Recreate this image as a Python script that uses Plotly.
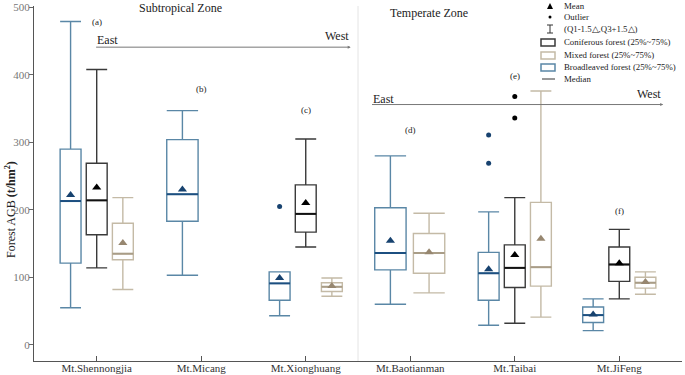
import plotly.graph_objects as go

# ---------------- data ----------------
mountains = ["Mt.Shennongjia", "Mt.Micang", "Mt.Xionghuang",
             "Mt.Baotianman", "Mt.Taibai", "Mt.JiFeng"]

box_mountain = [0, 0, 0, 1, 2, 2, 2, 3, 3, 4, 4, 4, 5, 5, 5]
box_type = ["B", "C", "M", "B", "B", "C", "M", "B", "M", "B", "C", "M", "B", "C", "M"]
lower_w = [55, 114, 82, 103, 43, 145, 72, 60, 77, 29, 32, 41, 21, 68, 75]
q1_vals = [121, 163, 126, 183, 66, 167, 79, 111, 106, 66, 85, 87, 33, 94, 84]
median_vals = [213, 214, 135, 223, 91, 194, 86, 136, 136, 106, 114, 115, 44, 119, 92]
q3_vals = [290, 269, 180, 304, 108, 237, 92, 203, 165, 137, 148, 211, 56, 145, 100]
upper_w = [479, 408, 218, 347, 108, 305, 99, 280, 195, 197, 218, 376, 68, 171, 108]
mean_vals = [222, 233, 151, 230, 99, 210, 87, 154, 137, 112, 133, 157, 45, 121, 93]

outlier_mountain = [2, 4, 4, 4, 4]
outlier_type = ["B", "B", "B", "C", "C"]
outlier_vals = [205, 311, 269, 368, 336]

panel_labels = ["(a)", "(b)", "(c)", "(d)", "(e)", "(f)"]
panel_label_y = [479, 379, 348, 319, 398, 199]

y_ticks = [0, 100, 200, 300, 400, 500]

# ---------------- styles / layout ----------------
FONT = "Liberation Serif"
style = {
    "B": dict(line="#5a87a6", med="#1c4f80", mean="#17426f"),
    "C": dict(line="#3a3a3a", med="#111111", mean="#000000"),
    "M": dict(line="#c4baa6", med="#a99d87", mean="#978770"),
}
three_off = {"B": -0.25, "C": 0.0, "M": 0.25}
two_off = {"B": -0.19, "M": 0.18}
counts = {m: box_mountain.count(m) for m in set(box_mountain)}


def place(m, t):
    if counts[m] >= 3:
        return m + three_off[t], 0.2
    if counts[m] == 2:
        return m + two_off[t], 0.3
    return m - 0.18, 0.3


fig = go.Figure()
for i, m in enumerate(box_mountain):
    t = box_type[i]
    pos, w = place(m, t)
    s = style[t]
    fig.add_trace(go.Box(
        x=[pos], q1=[q1_vals[i]], median=[median_vals[i]], q3=[q3_vals[i]],
        lowerfence=[lower_w[i]], upperfence=[upper_w[i]],
        width=w, whiskerwidth=1, boxpoints=False,
        line=dict(color=s["line"], width=1.4),
        fillcolor="rgba(255,255,255,0)", showlegend=False, hoverinfo="skip"))
    fig.add_trace(go.Scatter(
        x=[pos - w / 2, pos + w / 2], y=[median_vals[i]] * 2, mode="lines",
        line=dict(color=s["med"], width=2), showlegend=False, hoverinfo="skip"))
    fig.add_trace(go.Scatter(
        x=[pos], y=[mean_vals[i]], mode="markers",
        marker=dict(symbol="triangle-up", size=8, color=s["mean"]),
        showlegend=False, hoverinfo="skip"))

for m, t, v in zip(outlier_mountain, outlier_type, outlier_vals):
    pos, w = place(m, t)
    fig.add_trace(go.Scatter(
        x=[pos], y=[v], mode="markers",
        marker=dict(symbol="circle", size=5, color=style[t]["mean"]),
        showlegend=False, hoverinfo="skip"))

ann = []
for i, lab in enumerate(panel_labels):
    ann.append(dict(x=i, y=panel_label_y[i], text=lab, showarrow=False,
                    xanchor="center", yanchor="middle",
                    font=dict(size=9, color="#222", family=FONT)))

ann.append(dict(x=0.8, y=499, text="Subtropical Zone", showarrow=False,
                xanchor="center", yanchor="middle",
                font=dict(size=12, color="#222", family=FONT)))
ann.append(dict(x=3.18, y=492, text="Temperate Zone", showarrow=False,
                xanchor="center", yanchor="middle",
                font=dict(size=12, color="#222", family=FONT)))

for x0, x1, yv, ye, yw in [(-0.02, 2.43, 441, 452, 458), (2.62, 5.42, 356, 364, 371)]:
    ann.append(dict(x=x1, y=yv, ax=x0, ay=yv, xref="x", yref="y", axref="x", ayref="y",
                    text="", showarrow=True, arrowhead=2, arrowsize=0.6,
                    arrowwidth=1, arrowcolor="#777"))
    ann.append(dict(x=x0, y=ye, text="East", showarrow=False, xanchor="left",
                    yanchor="middle", font=dict(size=12, color="#222", family=FONT)))
    ann.append(dict(x=x1, y=yw, text="West", showarrow=False, xanchor="right",
                    yanchor="middle", font=dict(size=12, color="#222", family=FONT)))

# ---------------- custom legend (paper coords) ----------------
L, T, W, H = 34, 6, 648, 355
def px(x):
    return (x - L) / W
def py(y):
    return (T + H - y) / H

shapes = []
shapes.append(dict(type="line", xref="x", yref="paper", x0=2.5, x1=2.5, y0=0, y1=1,
                   line=dict(color="#e4e4e4", width=1)))

leg_rows = [
    ("tri", "Mean", 6),
    ("dot", "Outlier", 17),
    ("bar", "(Q1-1.5△,Q3+1.5△)", 29),
    ("rect", "Coniferous forest (25%~75%)", 42),
    ("rect", "Mixed forest (25%~75%)", 55),
    ("rect", "Broadleaved forest (25%~75%)", 67),
    ("line", "Median", 79),
]
rect_colors = [style["C"]["line"], style["M"]["line"], style["B"]["line"]]
ri = 0
for kind, label, yy in leg_rows:
    if kind == "tri":
        shapes.append(dict(type="path", xref="paper", yref="paper",
                           path=f"M {px(547)},{py(yy+3)} L {px(553)},{py(yy+3)} L {px(550)},{py(yy-3)} Z",
                           fillcolor="#000", line=dict(width=0)))
    elif kind == "dot":
        shapes.append(dict(type="circle", xref="paper", yref="paper", x0=px(548.5), x1=px(551.5),
                           y0=py(yy + 1.5), y1=py(yy - 1.5), fillcolor="#000", line=dict(width=0)))
    elif kind == "bar":
        shapes.append(dict(type="line", xref="paper", yref="paper", x0=px(550), x1=px(550),
                           y0=py(yy - 4), y1=py(yy + 4), line=dict(color="#333", width=1)))
        for d in (-4, 4):
            shapes.append(dict(type="line", xref="paper", yref="paper", x0=px(547), x1=px(553),
                               y0=py(yy + d), y1=py(yy + d), line=dict(color="#333", width=1)))
    elif kind == "rect":
        shapes.append(dict(type="rect", xref="paper", yref="paper", x0=px(541), x1=px(555),
                           y0=py(yy + 4), y1=py(yy - 3), line=dict(color=rect_colors[ri], width=1.5)))
        ri += 1
    else:
        shapes.append(dict(type="line", xref="paper", yref="paper", x0=px(542), x1=px(555),
                           y0=py(yy), y1=py(yy), line=dict(color="#333", width=1)))
    ann.append(dict(xref="paper", yref="paper", x=px(562), y=py(yy), text=label,
                    xanchor="left", yanchor="middle", showarrow=False,
                    font=dict(size=8.8, color="#222", family=FONT)))

# y-axis title
ann.append(dict(xref="paper", yref="paper", x=px(10), y=py(210), textangle=-90,
                text="Forest AGB <b>(t/hm<sup>2</sup>)</b>", showarrow=False,
                xanchor="center", yanchor="middle",
                font=dict(size=12, color="#222", family=FONT)))

fig.update_layout(
    template="none",
    width=685, height=375,
    margin=dict(l=L, r=685 - L - W, t=T, b=375 - T - H),
    paper_bgcolor="white", plot_bgcolor="white",
    boxmode="overlay",
    annotations=ann, shapes=shapes,
    xaxis=dict(range=[-0.6, 5.6], tickvals=list(range(len(mountains))), ticktext=mountains,
               ticks="inside", ticklen=5, tickcolor="#555", showline=True, linecolor="#555",
               linewidth=1.2, showgrid=False, zeroline=False, automargin=False,
               ticklabelstandoff=-3,
               tickfont=dict(size=11, color="#333", family=FONT)),
    yaxis=dict(range=[-24, 502], tickvals=y_ticks, ticks="outside", ticklen=4,
               tickcolor="#666", showline=True, linecolor="#555", linewidth=1.2,
               showgrid=False, zeroline=False, automargin=False,
               ticklabelstandoff=-3,
               tickfont=dict(size=11, color="#777", family=FONT)),
)

fig.write_html("out.html", post_script="document.body.style.margin='0';",
               config={"displayModeBar": False})
